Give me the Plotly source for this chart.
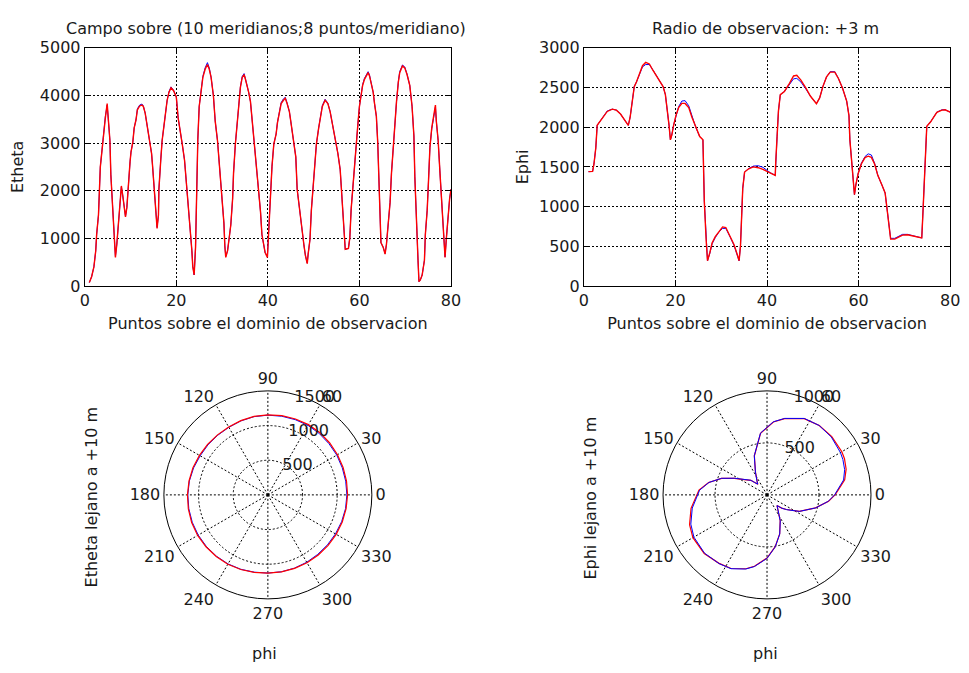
import plotly.graph_objects as go

FONT = "DejaVu Sans, Verdana, sans-serif"

# ---------------- data: Etheta (top-left) ----------------
etheta_x = [
    1, 1.5, 2, 2.4, 2.6, 3, 3.4, 3.9, 4.2, 4.5,
    4.9, 5.1, 5.5, 5.7, 6, 6.3, 6.5, 6.7, 7, 7.2,
    7.5, 7.8, 8, 8.3, 8.7, 8.9, 9.2, 9.4, 9.6, 9.9,
    10.1, 10.5, 10.8, 11.2, 11.5, 12, 12.5, 12.8, 13.2, 13.5,
    13.9, 14.2, 14.6, 14.8, 15, 15.3, 15.6, 15.8, 16.1, 16.2,
    16.6, 16.9, 17.3, 17.6, 18, 18.4, 18.85, 19.4, 20, 20.4,
    20.9, 21.3, 21.8, 22.1, 22.5, 22.9, 23.2, 23.4, 23.6, 23.9,
    24.2, 24.4, 24.7, 25, 25.4, 25.8, 26.3, 26.8, 27.2, 27.6,
    28.1, 28.5, 29, 29.3, 29.8, 30, 30.4, 30.6, 30.8, 31.2,
    31.5, 31.9, 32.3, 32.5, 32.9, 33.3, 33.6, 34, 34.4, 34.8,
    35.1, 35.5, 35.8, 36.2, 36.6, 36.9, 37.3, 37.6, 38, 38.4,
    38.7, 39.1, 39.4, 39.9, 40.2, 40.6, 40.9, 41.3, 41.8, 42.1,
    42.5, 42.9, 43.4, 43.8, 44.2, 44.7, 45, 45.4, 45.7, 46.1,
    46.4, 46.8, 47.2, 47.5, 47.9, 48.2, 48.6, 48.8, 49.2, 49.5,
    49.9, 50.2, 50.6, 51.1, 51.5, 51.9, 52.5, 53.1, 53.6, 54,
    54.4, 54.9, 55.3, 55.8, 56.1, 56.3, 56.7, 56.9, 57.6, 57.9,
    58.2, 58.5, 58.9, 59.2, 59.6, 60, 60.4, 60.7, 61.1, 61.5,
    61.9, 62.2, 62.6, 63, 63.3, 63.7, 64, 64.3, 64.5, 64.7,
    65.2, 65.6, 65.9, 66.3, 66.7, 67, 67.4, 67.7, 68.1, 68.5,
    68.8, 69.4, 69.9, 70.4, 71, 71.5, 71.9, 72.1, 72.4, 72.8,
    73, 73.3, 73.7, 74.2, 74.4, 74.8, 75.1, 75.4, 75.8, 76,
    76.3, 76.6, 76.8, 77.2, 77.6, 77.9, 78.2, 78.5, 78.7, 79,
    79.4, 79.7, 80,
]
etheta_red = [
    70, 195, 400, 740, 1080, 1490, 2500, 3010, 3360, 3530,
    3830, 3490, 3050, 2340, 1830, 1350, 870, 600, 870, 1150,
    1550, 1900, 2100, 1900, 1620, 1450, 1650, 2000, 2340, 2610,
    2810, 3020, 3320, 3490, 3700, 3780, 3800, 3770, 3630, 3430,
    3260, 2980, 2780, 2540, 2230, 1960, 1490, 1210, 1490, 2030,
    2640, 3050, 3360, 3630, 3900, 4070, 4160, 4100, 3970, 3530,
    3260, 2980, 2640, 2300, 1860, 1450, 1080, 740, 400, 230,
    810, 1960, 3080, 3770, 4140, 4380, 4550, 4650, 4550, 4380,
    4000, 3460, 3050, 2640, 2170, 1760, 1320, 840, 600, 740,
    940, 1280, 1830, 2370, 2980, 3460, 3870, 4170, 4380, 4440,
    4340, 4210, 4070, 3870, 3460, 3120, 2780, 2440, 2030, 1550,
    1080, 810, 700, 600, 1210, 1830, 2510, 2980, 3190, 3430,
    3660, 3830, 3900, 3940, 3830, 3660, 3460, 3220, 2980, 2710,
    2030, 1690, 1420, 1150, 840, 640, 470, 670, 980, 1590,
    2030, 2510, 2980, 3320, 3600, 3770, 3900, 3830, 3660, 3460,
    3220, 3010, 2780, 2440, 1960, 1490, 1010, 770, 790, 1010,
    1620, 2030, 2370, 2780, 3320, 3770, 4000, 4210, 4340, 4410,
    4480, 4410, 4270, 4070, 3830, 3560, 3010, 2170, 1380, 910,
    810, 670, 870, 1280, 1760, 2370, 2980, 3460, 3870, 4280,
    4480, 4620, 4580, 4440, 4210, 3770, 3150, 2300, 1380, 540,
    90, 125, 230, 540, 1080, 1590, 2230, 2910, 3320, 3460,
    3600, 3800, 3460, 3050, 2370, 1830, 1350, 870, 600, 1010,
    1550, 1830, 2030,
]
etheta_blue = [
    70, 195, 400, 740, 1080, 1490, 2500, 3010, 3360, 3560,
    3800, 3490, 3050, 2340, 1830, 1350, 870, 620, 870, 1150,
    1550, 1900, 2080, 1900, 1620, 1460, 1650, 2000, 2340, 2610,
    2810, 3020, 3320, 3490, 3720, 3800, 3820, 3780, 3630, 3430,
    3260, 2980, 2780, 2540, 2230, 1960, 1490, 1230, 1490, 2030,
    2640, 3050, 3360, 3630, 3900, 4080, 4180, 4110, 3970, 3530,
    3260, 2980, 2640, 2300, 1860, 1450, 1080, 740, 420, 230,
    810, 1960, 3080, 3770, 4150, 4400, 4580, 4690, 4580, 4380,
    4000, 3460, 3050, 2640, 2170, 1760, 1320, 840, 620, 740,
    940, 1280, 1830, 2370, 2980, 3460, 3870, 4180, 4400, 4460,
    4350, 4210, 4070, 3870, 3460, 3120, 2780, 2440, 2030, 1550,
    1080, 810, 700, 620, 1210, 1830, 2510, 2980, 3190, 3440,
    3680, 3850, 3930, 3960, 3840, 3660, 3460, 3220, 2980, 2710,
    2030, 1690, 1420, 1150, 840, 640, 480, 670, 980, 1590,
    2030, 2510, 2980, 3320, 3610, 3790, 3920, 3840, 3660, 3460,
    3220, 3010, 2780, 2440, 1960, 1490, 1010, 770, 790, 1010,
    1620, 2030, 2370, 2780, 3320, 3770, 4010, 4230, 4360, 4450,
    4500, 4430, 4280, 4070, 3830, 3560, 3010, 2170, 1380, 910,
    810, 680, 870, 1280, 1760, 2370, 2980, 3460, 3870, 4290,
    4500, 4640, 4600, 4450, 4210, 3770, 3150, 2300, 1380, 540,
    90, 125, 230, 540, 1080, 1590, 2230, 2910, 3300, 3440,
    3580, 3760, 3460, 3050, 2370, 1830, 1350, 870, 610, 1010,
    1550, 1830, 2030,
]

# ---------------- data: Ephi (top-right) ----------------
ephi_x = [
    1, 1.9, 2.2, 2.6, 2.9, 3.7, 4.4, 5.1, 6.2, 7.1,
    8, 8.9, 9.7, 10.1, 10.5, 11, 11.5, 12.1, 12.8, 13.5,
    14.3, 15.1, 16.2, 17.3, 17.8, 18.2, 18.6, 18.9, 19.2, 19.6,
    20.1, 20.7, 21.4, 22.1, 22.9, 23.6, 24.4, 25.3, 26, 26.3,
    26.7, 27, 27.5, 28, 28.7, 29.5, 30.3, 31, 32, 32.8,
    33.6, 33.9, 34.2, 34.5, 34.7, 35.1, 36, 37, 38.1, 39.1,
    40.2, 40.7, 41.8, 41.9, 42.2, 42.5, 42.9, 43.8, 44.9, 45.8,
    46.5, 47.4, 48.5, 49.5, 50.8, 51.5, 52.2, 53, 53.8, 54.8,
    55.6, 56.5, 57.4, 57.9, 58.1, 58.5, 58.9, 59.1, 59.4, 59.9,
    60.6, 61.4, 62.1, 62.8, 63.5, 64.2, 65.1, 65.8, 66.1, 66.4,
    66.8, 67, 67.9, 68.6, 69.6, 70.7, 71.8, 72.8, 73.8, 74,
    74.3, 74.6, 74.9, 75.7, 76.4, 77.1, 78.2, 78.9, 80,
]
ephi_red = [
    1440, 1443, 1537, 1740, 2024, 2085, 2146, 2199, 2228, 2215,
    2167, 2085, 2024, 2126, 2309, 2512, 2573, 2675, 2776, 2817,
    2797, 2715, 2614, 2512, 2411, 2248, 2024, 1841, 1902, 2024,
    2146, 2248, 2300, 2300, 2248, 2126, 2004, 1882, 1841, 1069,
    581, 317, 419, 541, 622, 691, 744, 736, 622, 520,
    378, 317, 500, 866, 1232, 1435, 1476, 1500, 1490, 1470,
    1443, 1427, 1394, 1557, 1882, 2207, 2410, 2451, 2553, 2646,
    2654, 2593, 2492, 2390, 2297, 2370, 2512, 2634, 2695, 2695,
    2614, 2492, 2329, 2146, 1841, 1557, 1313, 1150, 1272, 1415,
    1537, 1618, 1635, 1620, 1537, 1394, 1272, 1171, 1028, 866,
    703, 590, 590, 610, 640, 645, 628, 615, 605, 846,
    1313, 1780, 2012, 2065, 2126, 2187, 2215, 2220, 2190,
]
ephi_blue = [
    1440, 1443, 1537, 1740, 2024, 2085, 2150, 2205, 2228, 2215,
    2167, 2085, 2024, 2126, 2309, 2512, 2573, 2670, 2760, 2790,
    2790, 2720, 2614, 2512, 2411, 2248, 2024, 1841, 1902, 2030,
    2150, 2260, 2330, 2335, 2270, 2140, 2004, 1882, 1841, 1069,
    581, 317, 410, 530, 610, 680, 725, 725, 610, 510,
    370, 317, 500, 866, 1232, 1435, 1480, 1510, 1515, 1495,
    1450, 1427, 1394, 1557, 1882, 2207, 2410, 2451, 2540, 2610,
    2615, 2570, 2480, 2390, 2297, 2370, 2512, 2634, 2700, 2700,
    2614, 2492, 2329, 2146, 1841, 1557, 1313, 1150, 1272, 1415,
    1545, 1630, 1665, 1650, 1545, 1394, 1272, 1171, 1028, 866,
    703, 600, 600, 620, 650, 650, 635, 620, 605, 846,
    1313, 1780, 2012, 2065, 2126, 2190, 2220, 2220, 2190,
]

# ---------------- data: far-field polar plots ----------------
far_theta_etheta = list(range(0, 361, 10))
far_etheta_red = [
    1150, 1152, 1155, 1160, 1165, 1170, 1170, 1165, 1160, 1155,
    1150, 1140, 1130, 1130, 1135, 1140, 1150, 1155, 1160, 1165,
    1170, 1170, 1165, 1160, 1155, 1145, 1135, 1130, 1128, 1128,
    1130, 1132, 1135, 1138, 1142, 1146, 1150,
]
far_etheta_blue = [
    1140, 1140, 1142, 1148, 1150, 1155, 1158, 1155, 1152, 1150,
    1146, 1136, 1126, 1124, 1126, 1128, 1140, 1150, 1155, 1158,
    1160, 1160, 1158, 1155, 1150, 1142, 1132, 1128, 1126, 1124,
    1122, 1120, 1122, 1126, 1132, 1138, 1140,
]
far_theta_ephi = [
    0, 4, 11, 18, 25, 30, 42, 53, 64, 77,
    85, 96, 108, 117, 127, 131, 138, 146, 153, 160,
    168, 176, 190, 201, 210, 223, 235, 244, 254, 260,
    270, 279, 288, 297, 309, 313, 318, 323, 333, 345,
    354, 360,
]
far_ephi_red = [
    654, 687, 761, 800, 822, 831, 838, 835, 815, 752,
    704, 595, 394, 244, 156, 135, 209, 264, 351, 465,
    574, 656, 742, 798, 823, 826, 804, 788, 739, 697,
    607, 504, 394, 279, 160, 140, 190, 234, 348, 483,
    595, 654,
]
far_ephi_blue = [
    650, 680, 750, 785, 805, 815, 832, 835, 818, 755,
    706, 598, 396, 246, 158, 137, 210, 266, 353, 466,
    572, 650, 730, 785, 812, 822, 806, 790, 742, 700,
    610, 506, 396, 280, 161, 141, 191, 236, 350, 484,
    592, 650,
]

x_ticks = [0, 20, 40, 60, 80]
etheta_ticks = [0, 1000, 2000, 3000, 4000, 5000]
ephi_ticks = [0, 500, 1000, 1500, 2000, 2500, 3000]
angle_ticks = list(range(0, 360, 30))
angle_labels = [str(a) for a in angle_ticks]

BLUE = "#0000ff"
RED = "#ff0000"

fig = go.Figure()
# top-left
fig.add_trace(go.Scatter(x=etheta_x, y=etheta_blue, mode="lines",
                         line=dict(color=BLUE, width=1), xaxis="x", yaxis="y", showlegend=False))
fig.add_trace(go.Scatter(x=etheta_x, y=etheta_red, mode="lines",
                         line=dict(color=RED, width=1.4), xaxis="x", yaxis="y", showlegend=False))
# top-right
fig.add_trace(go.Scatter(x=ephi_x, y=ephi_blue, mode="lines",
                         line=dict(color=BLUE, width=1), xaxis="x2", yaxis="y2", showlegend=False))
fig.add_trace(go.Scatter(x=ephi_x, y=ephi_red, mode="lines",
                         line=dict(color=RED, width=1.4), xaxis="x2", yaxis="y2", showlegend=False))
# polar left
fig.add_trace(go.Scatterpolar(theta=far_theta_etheta, r=far_etheta_blue, mode="lines",
                              line=dict(color=BLUE, width=1), subplot="polar", showlegend=False))
fig.add_trace(go.Scatterpolar(theta=far_theta_etheta, r=far_etheta_red, mode="lines",
                              line=dict(color=RED, width=1.2), subplot="polar", showlegend=False))
# polar right
fig.add_trace(go.Scatterpolar(theta=far_theta_ephi, r=far_ephi_red, mode="lines",
                              line=dict(color=RED, width=1.2), subplot="polar2", showlegend=False))
fig.add_trace(go.Scatterpolar(theta=far_theta_ephi, r=far_ephi_blue, mode="lines",
                              line=dict(color=BLUE, width=1), subplot="polar2", showlegend=False))

W, H = 969, 673
FS = 16
tickfont = dict(family=FONT, size=FS, color="#1a1a1a")
RAD_ANGLE = 80


def cart_axis(**kw):
    d = dict(showline=True, linecolor="black", linewidth=1, mirror="ticks",
             ticks="inside", ticklen=5, tickcolor="black", tickwidth=1,
             showgrid=True, gridcolor="black", gridwidth=1, griddash="2px,2px",
             zeroline=False, tickfont=tickfont, fixedrange=True)
    d.update(kw)
    return d


def polar_layout(xc, r, **kw):
    return dict(
        domain=dict(x=[(xc - r) / W, (xc + r) / W], y=[1 - (500 + r) / H, 1 - (500 - r) / H]),
        bgcolor="white",
        angularaxis=dict(tickmode="array", tickvals=angle_ticks, ticktext=angle_labels,
                         showline=True, linecolor="black", linewidth=1,
                         showgrid=True, gridcolor="black", gridwidth=1, griddash="2px,2px",
                         ticks="", tickfont=tickfont, rotation=0, direction="counterclockwise"),
        radialaxis=dict(showline=False, ticks="", showgrid=True, gridcolor="black", gridwidth=1,
                        griddash="2px,2px", angle=RAD_ANGLE, tickangle=RAD_ANGLE,
                        tickfont=tickfont, **kw),
    )


fig.update_layout(
    width=W, height=H,
    margin=dict(l=0, r=0, t=0, b=0),
    paper_bgcolor="white", plot_bgcolor="white",
    font=dict(family=FONT, size=FS, color="#1a1a1a"),
    xaxis=cart_axis(domain=[81 / W, 453 / W], range=[0, 80], tickvals=x_ticks, anchor="y",
                    title=dict(text="Puntos sobre el dominio de observacion", font=tickfont, standoff=8)),
    yaxis=cart_axis(domain=[1 - 285 / H, 1 - 40 / H], range=[0, 5000], tickvals=etheta_ticks, anchor="x",
                    title=dict(text="Etheta", font=tickfont, standoff=12)),
    xaxis2=cart_axis(domain=[588 / W, 960 / W], range=[0, 80], tickvals=x_ticks, anchor="y2",
                     title=dict(text="Puntos sobre el dominio de observacion", font=tickfont, standoff=8)),
    yaxis2=cart_axis(domain=[1 - 285 / H, 1 - 40 / H], range=[0, 3000], tickvals=ephi_ticks, anchor="x2",
                     title=dict(text="Ephi", font=tickfont, standoff=6)),
    polar=polar_layout(267, 107, range=[0, 1500], tickvals=[500, 1000, 1500]),
    polar2=polar_layout(774, 107, range=[0, 1000], tickvals=[500, 1000]),
    annotations=[
        dict(text="Campo sobre (10 meridianos;8 puntos/meridiano)", xref="paper", yref="paper",
             x=265 / W, y=1 - 20 / H, showarrow=False, font=tickfont, xanchor="center", yanchor="middle"),
        dict(text="Radio de observacion: +3 m", xref="paper", yref="paper",
             x=772 / W, y=1 - 20 / H, showarrow=False, font=tickfont, xanchor="center", yanchor="middle"),
        dict(text="Etheta lejano a +10 m", xref="paper", yref="paper", textangle=-90,
             x=88 / W, y=1 - 503 / H, showarrow=False, font=tickfont, xanchor="center", yanchor="middle"),
        dict(text="Ephi lejano a +10 m", xref="paper", yref="paper", textangle=-90,
             x=595 / W, y=1 - 503 / H, showarrow=False, font=tickfont, xanchor="center", yanchor="middle"),
        dict(text="phi", xref="paper", yref="paper",
             x=264 / W, y=1 - 663 / H, showarrow=False, font=tickfont, xanchor="center", yanchor="middle"),
        dict(text="phi", xref="paper", yref="paper",
             x=772 / W, y=1 - 663 / H, showarrow=False, font=tickfont, xanchor="center", yanchor="middle"),
    ],
)

fig.write_html("out.html")
